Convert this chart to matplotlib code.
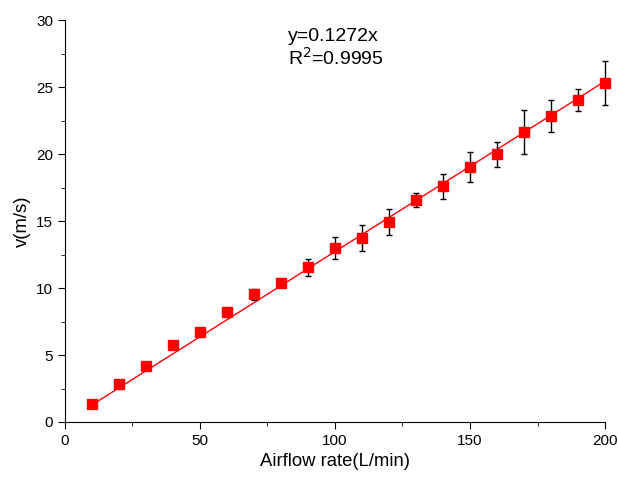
import matplotlib.pyplot as plt
import numpy as np
from matplotlib.ticker import MultipleLocator

# Data
airflow = [10, 20, 30, 40, 50, 60, 70, 80, 90, 100,
           110, 120, 130, 140, 150, 160, 170, 180, 190, 200]
velocity = [1.33, 2.82, 4.18, 5.73, 6.70, 8.22, 9.54, 10.40, 11.54, 12.96,
            13.70, 14.92, 16.57, 17.58, 19.05, 19.99, 21.66, 22.84, 24.04, 25.30]
velocity_err = [0.15, 0.2, 0.15, 0.2, 0.15, 0.15, 0.4, 0.25, 0.61, 0.82,
                0.97, 0.96, 0.5, 0.97, 1.14, 0.93, 1.62, 1.22, 0.83, 1.65]
slope = 0.1272
r2 = 0.9995

plt.rcParams['font.family'] = ['Liberation Sans', 'DejaVu Sans']

fig = plt.figure(figsize=(6.18, 4.79), dpi=100)
ax = fig.add_axes([0.105, 0.119, 0.874, 0.839])

# Fit line
fit_x = np.array([airflow[0], airflow[-1]])
ax.plot(fit_x, slope * fit_x, color='red', linewidth=1, zorder=2,
        clip_on=False)

# Points with error bars
eb = ax.errorbar(airflow, velocity, yerr=velocity_err, fmt='s', color='red',
                 markersize=7, ecolor='black', elinewidth=1, capsize=2.5,
                 capthick=1, zorder=3)
for artist in eb.get_children():
    artist.set_clip_on(False)

ax.text(82.6, 28.75, f"y={slope}x", fontsize=14, va='center', ha='left')
ax.text(82.6, 27.2, f"R$^2$={r2}", fontsize=14, va='center', ha='left')

# Axes
ax.set_xlim(0, 200)
ax.set_ylim(0, 30)
ax.xaxis.set_major_locator(MultipleLocator(50))
ax.xaxis.set_minor_locator(MultipleLocator(25))
ax.yaxis.set_major_locator(MultipleLocator(5))
ax.yaxis.set_minor_locator(MultipleLocator(2.5))
ax.spines['top'].set_visible(False)
ax.spines['right'].set_visible(False)
ax.tick_params(which='major', direction='out', length=5, labelsize=11)
ax.tick_params(which='minor', direction='out', length=3)

ax.set_xlabel("Airflow rate(L/min)", fontsize=13.3)
ax.set_ylabel("v(m/s)", fontsize=13.3)

plt.savefig("out.png", dpi=100)
plt.close()
